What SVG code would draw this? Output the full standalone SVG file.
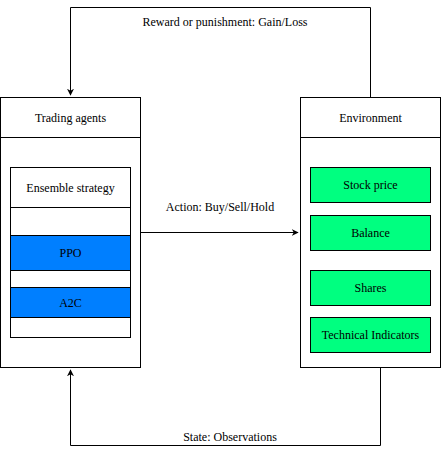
<svg xmlns="http://www.w3.org/2000/svg" width="441" height="456" viewBox="0 0 441 456" font-family="Liberation Serif, DejaVu Serif, serif" font-size="12">
<defs>
<marker id="arr" viewBox="0 0 10 10" refX="9" refY="5" markerWidth="7" markerHeight="7" markerUnits="userSpaceOnUse" orient="auto">
<path d="M0,0 L10,5 L0,10 L3,5 Z" fill="#000"/>
</marker>
<style>
text{fill:#000;text-anchor:middle;dominant-baseline:central}
.box{fill:#fff;stroke:#000;stroke-width:1}
.blue{fill:#007FFF;stroke:#000;stroke-width:1}
.green{fill:#00FF80;stroke:#000;stroke-width:1}
.edge{fill:none;stroke:#000;stroke-width:1}
</style>
</defs>
<rect width="441" height="456" fill="#fff"/>
<g id="edges">
<path class="edge" d="M370.5,97.5 V7.5 H70.5 V95" marker-end="url(#arr)"/>
<path class="edge" d="M140.5,232.5 H298" marker-end="url(#arr)"/>
<path class="edge" d="M380.5,367.5 V445.5 H70.5 V370" marker-end="url(#arr)"/>
<text x="225" y="22">Reward or punishment: Gain/Loss</text>
<text x="220" y="207">Action: Buy/Sell/Hold</text>
<text x="230" y="437">State: Observations</text>
</g>
<g id="trading-agents">
<rect class="box" x="0.5" y="97.5" width="140" height="270"/>
<line class="edge" x1="0.5" y1="137.5" x2="140.5" y2="137.5"/>
<text x="70.5" y="117.5">Trading agents</text>
</g>
<g id="ensemble">
<rect class="box" x="10.5" y="167.5" width="120" height="170"/>
<line class="edge" x1="10.5" y1="207.5" x2="130.5" y2="207.5"/>
<text x="70.5" y="187.5">Ensemble strategy</text>
</g>
<g id="ppo">
<rect class="blue" x="10.5" y="235.5" width="120" height="35"/>
<text x="70.5" y="252.5">PPO</text>
</g>
<g id="a2c">
<rect class="blue" x="10.5" y="287.5" width="120" height="30"/>
<text x="70.5" y="302.5">A2C</text>
</g>
<g id="environment">
<rect class="box" x="300.5" y="97.5" width="140" height="270"/>
<line class="edge" x1="300.5" y1="137.5" x2="440.5" y2="137.5"/>
<text x="370.5" y="117.5">Environment</text>
</g>
<g id="stock-price">
<rect class="green" x="310.5" y="167.5" width="120" height="35"/>
<text x="370.5" y="185">Stock price</text>
</g>
<g id="balance">
<rect class="green" x="310.5" y="215.5" width="120" height="35"/>
<text x="370.5" y="232.5">Balance</text>
</g>
<g id="shares">
<rect class="green" x="310.5" y="270.5" width="120" height="35"/>
<text x="370.5" y="287.5">Shares</text>
</g>
<g id="technical-indicators">
<rect class="green" x="310.5" y="317.5" width="120" height="35"/>
<text x="370.5" y="335">Technical Indicators</text>
</g>
</svg>
